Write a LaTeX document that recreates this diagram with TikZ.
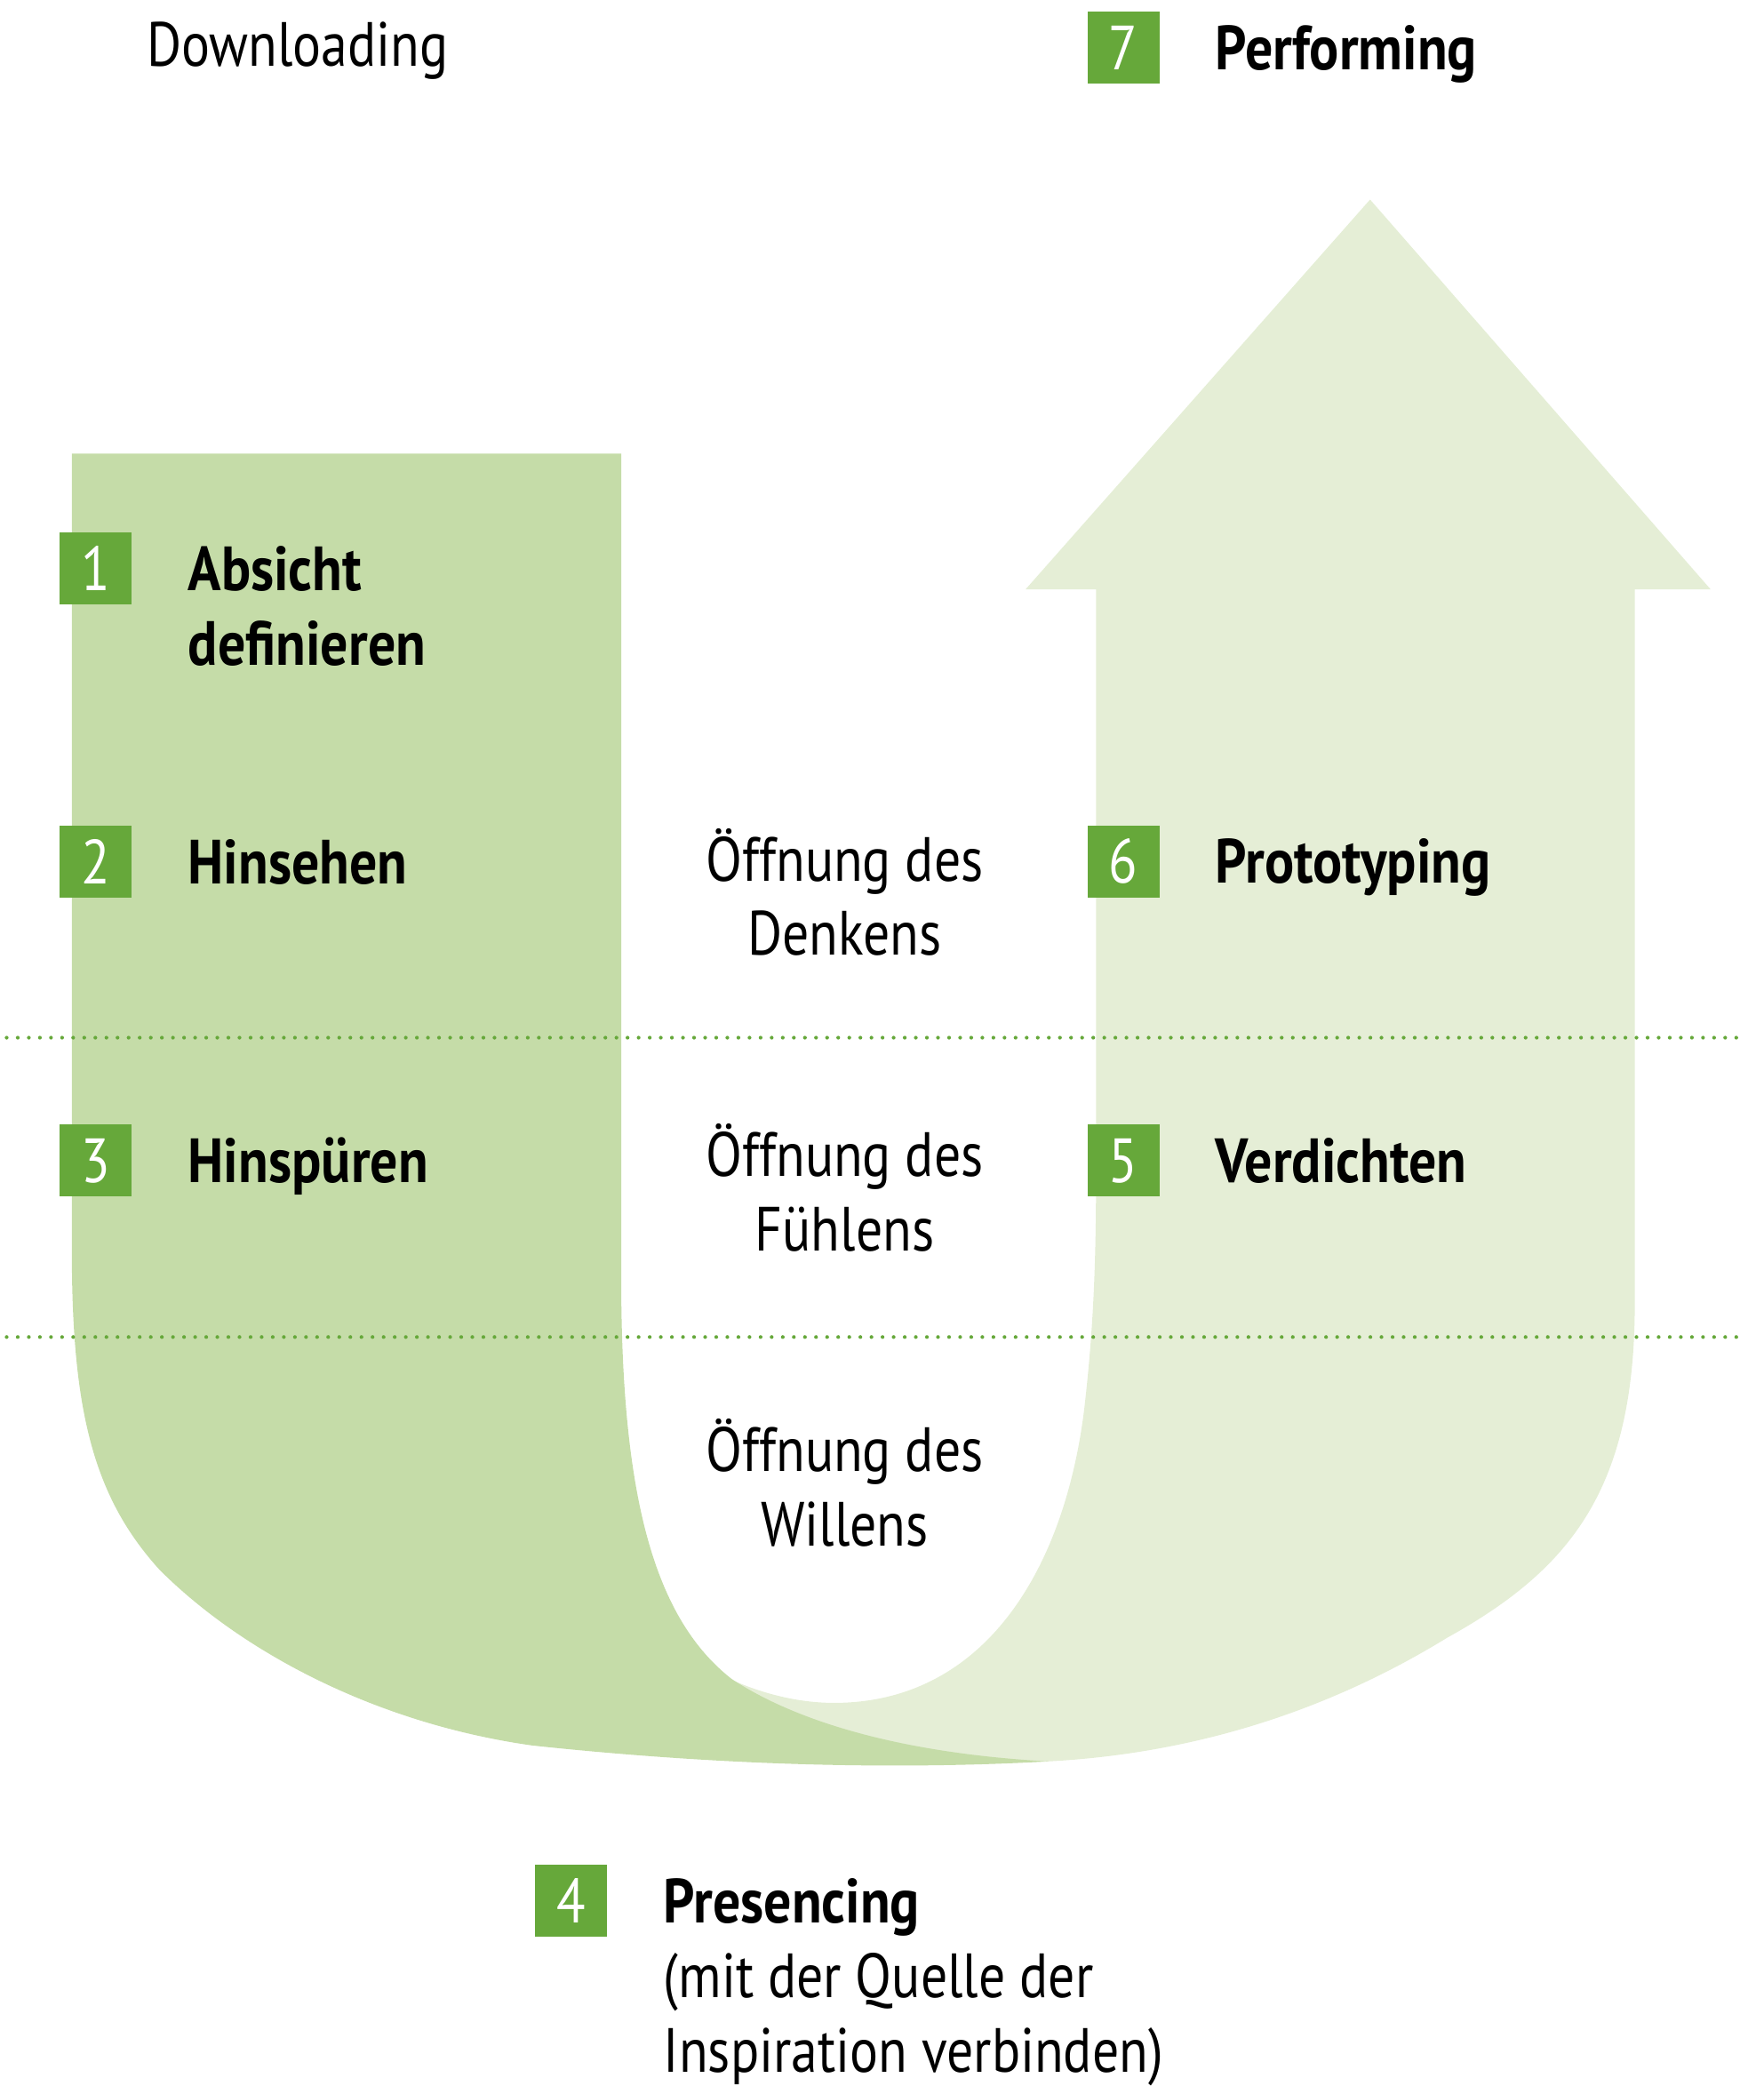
\documentclass[tikz,border=0pt]{standalone}
\usepackage{fontspec}
\setmainfont[FakeStretch=0.85, BoldFeatures={FakeStretch=0.88}]{PT Sans}
\usetikzlibrary{positioning}
\definecolor{boxgreen}{HTML}{66A83A}
\definecolor{darkleaf}{HTML}{C5DCA8}
\definecolor{lightleaf}{HTML}{E5EED6}
\newcommand{\ufont}{\fontsize{20}{23.8}\selectfont}
\tikzset{node distance=0.62cm,
	numbox/.style={fill=boxgreen, text=white, font=\ufont, minimum size=0.81cm, inner sep=0pt},
	steptext/.style={font=\ufont\bfseries, inner sep=0pt},
	midtext/.style={font=\ufont, align=center, inner sep=0pt},
	dotline/.style={boxgreen, line width=1.2pt, line cap=round, dash pattern=on 0pt off 3.55pt}}

\begin{document}
\begin{tikzpicture}[x=0.01497cm, y=-0.01497cm]
		\useasboundingbox (0,0) rectangle (1326,1568);
		\fill[lightleaf] (540,1258) .. controls (570,1273) and (600,1280) .. (627,1280)
			.. controls (740,1280) and (800,1180) .. (815,1060)
			.. controls (822,1000) and (824,950) .. (824,880) -- (824,443) -- (771,443)
			-- (1030,150) -- (1286,443) -- (1229,443) -- (1229,980)
			.. controls (1229,1120) and (1180,1180) .. (1088,1231)
			.. controls (1000,1285) and (900,1318) .. (788,1324)
			-- (700,1322) -- (620,1306) -- cycle;
		\fill[darkleaf] (54,341) -- (467,341) -- (467,960)
			.. controls (467,1120) and (490,1215) .. (550,1262)
			.. controls (600,1295) and (680,1318) .. (788,1324)
			.. controls (680,1330) and (550,1328) .. (400,1312)
			.. controls (280,1295) and (180,1240) .. (120,1180)
			.. controls (70,1125) and (54,1060) .. (54,940) -- cycle;
		\draw[dotline] (5,780) -- (1310,780);
		\draw[dotline] (5,1005) -- (1310,1005);

		\node[font=\ufont, anchor=base west, inner sep=0pt] (down) at (110,50) {Downloading};

		\node[numbox] (n1) at (72,427.5) {1};
		\node[numbox] (n2) at (72,647.5) {2};
		\node[numbox] (n3) at (72,872.5) {3};
		\node[numbox] (n4) at (429.5,1429) {4};
		\node[numbox] (n5) at (844.5,872.5) {5};
		\node[numbox] (n6) at (844.5,647.5) {6};
		\node[numbox] (n7) at (844.5,36) {7};

		\node[steptext, base right=of n1] (t1) {\vtop{\hbox{Absicht}\hbox{definieren}}};
		\node[steptext, base right=of n2] (t2) {Hinsehen};
		\node[steptext, base right=of n3] (t3) {Hinspüren};
		\node[steptext, base right=of n4] (t4) {\vtop{\hbox{Presencing}\hbox{\mdseries (mit der Quelle der}\hbox{\mdseries Inspiration verbinden)}}};
		\node[steptext, base right=of n5] (t5) {Verdichten};
		\node[steptext, base right=of n6] (t6) {Prototyping};
		\node[steptext, base right=of n7] (t7) {Performing};

		\node[midtext, anchor=base] (m1) at (635,718) {Öffnung des\\Denkens};
		\node[midtext, anchor=base] (m2) at (635,940) {Öffnung des\\Fühlens};
		\node[midtext, anchor=base] (m3) at (635,1162) {Öffnung des\\Willens};
	\end{tikzpicture}
\end{document}
